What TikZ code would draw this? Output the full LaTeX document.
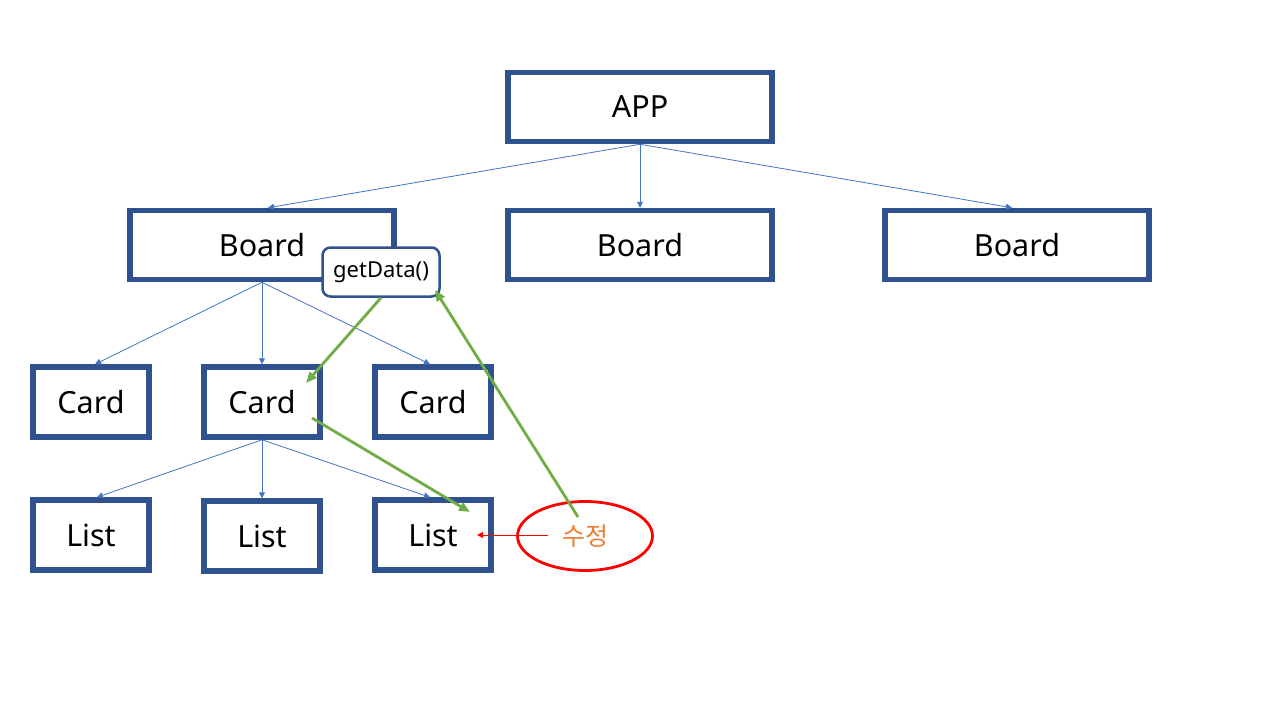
\documentclass[tikz,border=0pt]{standalone}
\usepackage{fontspec}
\setmainfont{Noto Sans}
\newfontfamily\kofont{Noto Sans CJK KR}
\usetikzlibrary{arrows.meta,shapes.geometric}
\definecolor{boxblue}{HTML}{2F528F}
\definecolor{linkblue}{HTML}{4472C4}
\definecolor{flowgreen}{HTML}{70AD47}
\definecolor{editorange}{HTML}{ED7D31}
\tikzset{
	box/.style={draw=boxblue, line width=5.5pt, fill=white, inner sep=0pt,
		font=\fontsize{30.5}{36}\selectfont},
	wide/.style={box, minimum width=264pt, minimum height=69pt},
	small/.style={box, minimum width=116pt, minimum height=70pt},
	link/.style={linkblue, line width=0.8pt, -{Triangle[length=6pt,width=6pt]}},
	flow/.style={flowgreen, line width=2.8pt, -{Triangle[length=11pt,width=9pt]}},
}
\begin{document}
\begin{tikzpicture}[x=1pt, y=-1pt]
		\useasboundingbox (0,0) rectangle (1280,720);
		%tree
		\node[wide] (app) at (640,107){APP};
		\node[wide] (board1) at (262,245){Board};
		\node[wide] (board2) at (640,245){Board};
		\node[wide] (board3) at (1017,245){Board};
		
		\node[small] (card1) at (91,402){Card};
		\node[small] (card2) at (262,402){Card};
		\node[small] (card3) at (433,402){Card};
		
		\node[small] (list1) at (91,535){List};
		\node[small] (list2) at (262,536){List};
		\node[small] (list3) at (433,535){List};
		
		\draw[link] (app.south) -- ([xshift=6pt]board1.north);
		\draw[link] (app.south) -- (board2.north);
		\draw[link] (app.south) -- ([xshift=-5pt]board3.north);
		
		\draw[link] (board1.south) -- ([xshift=4pt]card1.north);
		\draw[link] (board1.south) -- (card2.north);
		\draw[link] (board1.south) -- ([xshift=-3pt]card3.north);
		
		\draw[link] (card2.south) -- ([xshift=6pt]list1.north);
		\draw[link] (card2.south) -- (list2.north);
		\draw[link] (card2.south) -- ([xshift=-3pt]list3.north);
		
		%data flow
		\node[draw=boxblue, line width=2.5pt, rounded corners=8pt, fill=white,
			minimum width=117pt, minimum height=49pt, inner sep=0pt,
			font=\fontsize{22}{26}\selectfont] (get) at (381,272){getData()};
		\node[ellipse, draw=red, line width=2.8pt, minimum width=135pt,
			minimum height=69pt, inner sep=0pt, text=editorange,
			font=\kofont\fontsize{25}{30}\selectfont] (edit) at (585,536){수정};
		
		\coordinate (cardin) at (306,383);
		\coordinate (cardout) at (312,418);
		\coordinate (listin) at (470,512);
		\coordinate (editout) at (578,517);
		\coordinate (getin) at (435,290);
		\coordinate (editleft) at (548,535);
		\coordinate (listright) at (477,535);
		
		\draw[flow] (get.south) -- (cardin);
		\draw[flow] (cardout) -- (listin);
		\draw[flow] (editout) -- (getin);
		\draw[red, line width=0.8pt, -{Triangle[length=6pt,width=6pt]}] (editleft) -- (listright);
\end{tikzpicture}
\end{document}
